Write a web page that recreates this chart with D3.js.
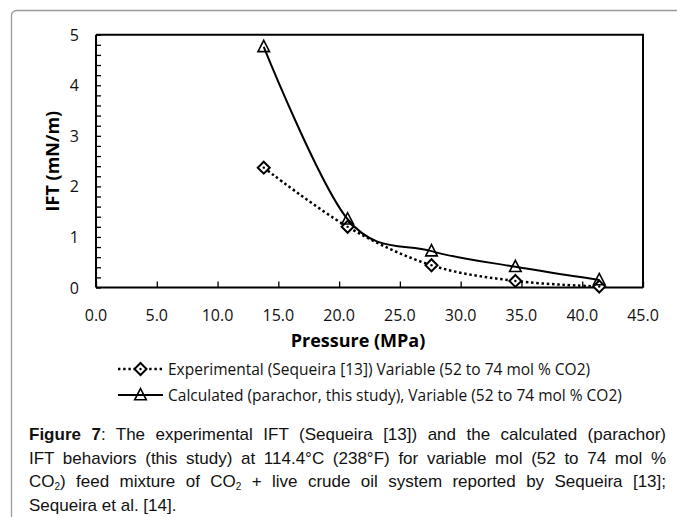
<!DOCTYPE html>
<html>
<head>
<meta charset="utf-8">
<script src="https://cdn.jsdelivr.net/npm/d3@7"></script>
<style>
  body { margin: 0; background: #fff; }
  #viz { position: relative; width: 677px; height: 517px; overflow: hidden; }
  .caption { position: absolute; left: 29px; top: 423px; width: 637px;
    font-family: "Liberation Sans", Arial, sans-serif; font-size: 17px;
    line-height: 23.5px; color: #111; }
  .caption div { text-align: justify; text-align-last: justify; white-space: nowrap; }
  .caption div.last { text-align-last: left; }
  .caption sub { font-size: 10px; vertical-align: -3px; line-height: 0; }
</style>
</head>
<body>
<div id="viz"></div>
<script>
var w = 677;
var h = 517;

// data
var pressure = [13.8, 20.7, 27.6, 34.5, 41.4];
var experimental = [2.37, 1.2, 0.44, 0.13, 0.02];
var calculated = [4.76, 1.35, 0.72, 0.41, 0.15];
var xTicks = [0, 5, 10, 15, 20, 25, 30, 35, 40, 45];
var yTicks = [0, 1, 2, 3, 4, 5];
var legendLabels = [
    "Experimental (Sequeira [13]) Variable (52 to 74 mol % CO2)",
    "Calculated (parachor, this study), Variable (52 to 74 mol % CO2)"
];

var plotLeft = 96, plotRight = 643, plotTop = 34.7, plotBottom = 287.5;
var tickFont = "'Open Sans', sans-serif";

var root = d3.select("#viz");
var svg = root.append("svg")
    .attr("width", w)
    .attr("height", h)
    .style("position", "absolute")
    .style("left", 0)
    .style("top", 0);

// outer frame
svg.append("rect")
    .attr("x", 11.5)
    .attr("y", 10.5)
    .attr("width", 720)
    .attr("height", 600)
    .attr("rx", 5)
    .attr("fill", "none")
    .attr("stroke", "#9a9a9a")
    .attr("stroke-width", 1.3);

var x = d3.scaleLinear().domain([0, 45]).range([plotLeft, plotRight]);
var y = d3.scaleLinear().domain([0, 5]).range([plotBottom, plotTop]);

// plot box (top and right)
svg.append("path")
    .attr("d", "M" + plotLeft + "," + plotTop + "H" + plotRight + "V" + plotBottom)
    .attr("fill", "none")
    .attr("stroke", "#000")
    .attr("stroke-width", 2);

// y axis with minor ticks pointing inward
var yMinor = d3.range(0, 26).map(function (i) { return i / 5; });
var yAxis = svg.append("g")
    .attr("transform", "translate(" + plotLeft + ",0)")
    .call(d3.axisRight(y).tickValues(yMinor).tickSize(5).tickFormat(""));
yAxis.select(".domain").attr("stroke-width", 2).attr("d", "M0," + plotTop + "V" + plotBottom);
yAxis.selectAll(".tick line").attr("stroke-width", 1.3);

svg.append("g").selectAll("text")
    .data(yTicks)
    .enter()
    .append("text")
    .attr("x", 79)
    .attr("y", function (d) { return y(d) + 6; })
    .attr("text-anchor", "end")
    .style("font-family", tickFont)
    .style("font-size", "16px")
    .attr("fill", "#111")
    .text(function (d) { return d; });

// x axis with ticks pointing inward
var xAxis = svg.append("g")
    .attr("transform", "translate(0," + plotBottom + ")")
    .call(d3.axisTop(x).tickValues(xTicks).tickSize(6).tickFormat(""));
xAxis.select(".domain").attr("stroke-width", 2).attr("d", "M" + plotLeft + ",0H" + plotRight);
xAxis.selectAll(".tick line").attr("stroke-width", 1.3);

svg.append("g").selectAll("text")
    .data(xTicks)
    .enter()
    .append("text")
    .attr("x", function (d) { return x(d); })
    .attr("y", 321)
    .attr("text-anchor", "middle")
    .style("font-family", tickFont)
    .style("font-size", "16px")
    .attr("fill", "#111")
    .text(function (d) { return d.toFixed(1); });

// axis titles
svg.append("text")
    .attr("x", 358)
    .attr("y", 347)
    .attr("text-anchor", "middle")
    .style("font-family", tickFont)
    .style("font-size", "18px")
    .style("font-weight", "bold")
    .text("Pressure (MPa)");

svg.append("text")
    .attr("transform", "translate(59," + (plotTop + plotBottom) / 2 + ") rotate(-90)")
    .attr("text-anchor", "middle")
    .style("font-family", tickFont)
    .style("font-size", "18px")
    .style("font-weight", "bold")
    .text("IFT (mN/m)");

// lines
var expPts = pressure.map(function (p, i) { return [p, experimental[i]]; });
var calPts = pressure.map(function (p, i) { return [p, calculated[i]]; });

var line = d3.line()
    .x(function (d) { return x(d[0]); })
    .y(function (d) { return y(d[1]); })
    .curve(d3.curveCatmullRom.alpha(0));

svg.append("path")
    .attr("d", line(expPts))
    .attr("fill", "none")
    .attr("stroke", "#000")
    .attr("stroke-width", 2.5)
    .attr("stroke-dasharray", "2.5,2.7");

svg.append("path")
    .attr("d", line(calPts))
    .attr("fill", "none")
    .attr("stroke", "#000")
    .attr("stroke-width", 2);

var diamond = "M0,-6L6,0L0,6L-6,0Z";
var triangle = "M0,-6.5L5.8,4.8L-5.8,4.8Z";

function drawDiamond(g, cx, cy) {
    g.append("path")
        .attr("transform", "translate(" + cx + "," + cy + ")")
        .attr("d", diamond)
        .attr("fill", "#fff")
        .attr("stroke", "#000")
        .attr("stroke-width", 2);
    g.append("circle")
        .attr("cx", cx)
        .attr("cy", cy)
        .attr("r", 1.2)
        .attr("fill", "#000");
}

function drawTriangle(g, cx, cy) {
    g.append("path")
        .attr("transform", "translate(" + cx + "," + cy + ")")
        .attr("d", triangle)
        .attr("fill", "none")
        .attr("stroke", "#000")
        .attr("stroke-width", 1.6);
}

var markers = svg.append("g");
expPts.forEach(function (d) { drawDiamond(markers, x(d[0]), y(d[1])); });
calPts.forEach(function (d) { drawTriangle(markers, x(d[0]), y(d[1])); });

// legend
var legend = svg.append("g");
var rowY = [369, 395];

legend.append("line")
    .attr("x1", 118).attr("x2", 163)
    .attr("y1", rowY[0]).attr("y2", rowY[0])
    .attr("stroke", "#000")
    .attr("stroke-width", 2.4)
    .attr("stroke-dasharray", "2.4,2.8");
drawDiamond(legend, 140.5, rowY[0]);

legend.append("line")
    .attr("x1", 118).attr("x2", 163)
    .attr("y1", rowY[1]).attr("y2", rowY[1])
    .attr("stroke", "#000")
    .attr("stroke-width", 2);
drawTriangle(legend, 140.5, rowY[1]);

legend.selectAll("text.lab")
    .data(legendLabels)
    .enter()
    .append("text")
    .attr("class", "lab")
    .attr("x", 168)
    .attr("y", function (d, i) { return rowY[i] + 5.5; })
    .style("font-family", tickFont)
    .style("font-size", "15.5px")
    .attr("fill", "#111")
    .text(function (d) { return d; });

// caption, one div per printed line so the breaks match
var captionLines = [
    "<b>Figure 7</b>: The experimental IFT (Sequeira [13]) and the calculated (parachor)",
    "IFT behaviors (this study) at 114.4°C (238°F) for variable mol (52 to 74 mol %",
    "CO<sub>2</sub>) feed mixture of CO<sub>2</sub> + live crude oil system reported by Sequeira [13];",
    "Sequeira et al. [14]."
];
root.append("div")
    .attr("class", "caption")
    .selectAll("div")
    .data(captionLines)
    .enter()
    .append("div")
    .classed("last", function (d, i) { return i == captionLines.length - 1; })
    .html(function (d) { return d; });
</script>
</body>
</html>
